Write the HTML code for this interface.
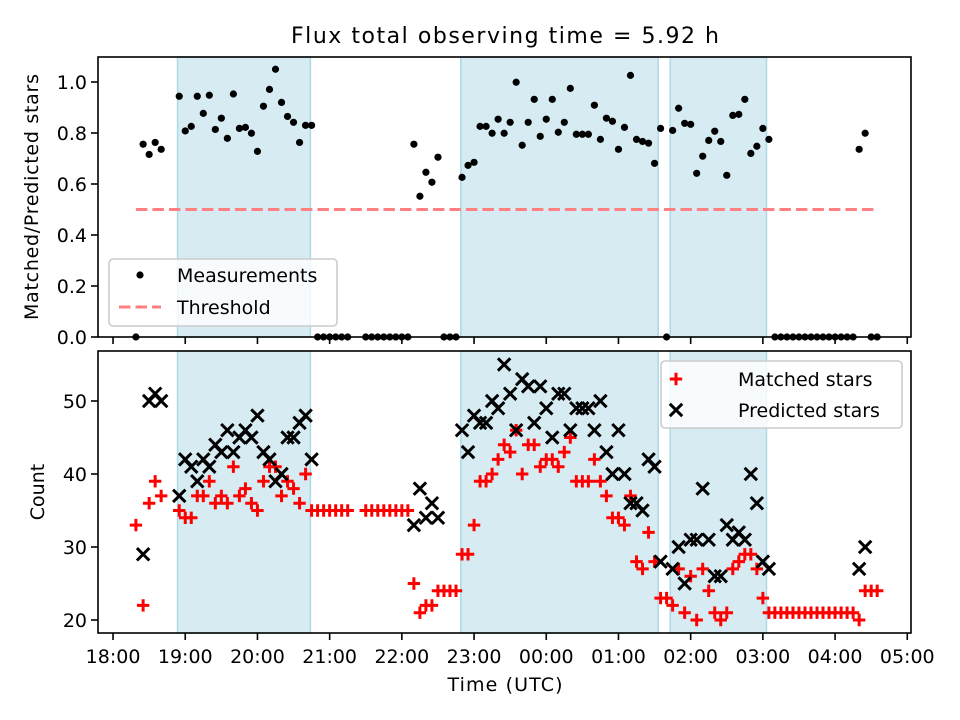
<!DOCTYPE html>
<html><head><meta charset="utf-8"><style>
html,body{margin:0;padding:0;background:#fff;}
svg{display:block;font-family:"DejaVu Sans","Liberation Sans",sans-serif;}
</style></head><body>
<svg id="chart" width="960" height="720" viewBox="0 0 960 720">
<rect width="960" height="720" fill="#fff"/>
<text x="505" y="43" font-size="22" text-anchor="middle" fill="#000" textLength="428">Flux total observing time = 5.92 h</text>
<g id="topPanel"></g>
<g id="botPanel"></g>
<text x="505" y="691" font-size="19" text-anchor="middle" textLength="115">Time (UTC)</text>
<text transform="translate(38,197) rotate(-90)" font-size="19" text-anchor="middle" textLength="246">Matched/Predicted stars</text>
<text transform="translate(44,492) rotate(-90)" font-size="19" text-anchor="middle">Count</text>
</svg>
<script>
// time in minutes after 18:00 UTC
const times = [19,25,30,35,40,55,60,65,70,75,80,85,90,95,100,105,110,115,120,125,130,135,140,145,150,155,160,165,
170,175,180,185,190,195,210,215,220,225,230,235,240,245,
250,255,260,265,270,275,280,285,290,295,300,305,310,315,320,325,330,335,340,345,350,355,360,365,370,375,380,385,390,395,400,405,410,415,420,425,430,435,440,445,450,455,460,
465,470,475,480,485,490,495,500,505,510,515,520,525,530,535,540,545,
550,555,560,565,570,575,580,585,590,595,600,605,610,615,620,625,630,635];
const ratio = [0,.756,.716,.763,.736,.944,.808,.826,.944,.877,.948,.814,.858,.779,.953,.818,.822,.799,.728,.905,.971,1.05,.920,.865,.842,.763,.830,.830,
0,0,0,0,0,0,0,0,0,0,0,0,0,0,
.756,.552,.646,.607,.705,0,0,0,.626,.673,.685,.826,.826,.799,.854,.799,.842,.999,.752,.842,.932,.787,.854,.932,.803,.842,.975,.795,.795,.795,.909,.775,.858,.846,.736,.822,1.026,.775,.767,.760,.681,.818,0,
.810,.897,.838,.834,.642,.709,.771,.807,.767,.634,.869,.873,.932,.720,.748,.818,.775,
0,0,0,0,0,0,0,0,0,0,0,0,0,0,.736,.799,0,0];
const matched = [33,22,36,39,37,35,34,34,37,37,39,36,37,36,41,37,38,36,35,39,41,41,37,39,38,36,40,35,
35,35,35,35,35,35,35,35,35,35,35,35,35,35,
25,21,22,22,24,24,24,24,29,29,33,39,39,40,42,44,43,46,40,44,44,41,42,42,41,43,45,39,39,39,42,39,37,34,34,33,37,28,27,32,28,23,23,
22,27,21,26,20,27,24,21,20,21,27,28,29,29,27,23,21,
21,21,21,21,21,21,21,21,21,21,21,21,21,21,20,24,24,24];
const predicted = [null,29,50,51,50,37,42,41,39,42,41,44,43,46,43,45,46,45,48,43,42,39,40,45,45,47,48,42,
null,null,null,null,null,null,null,null,null,null,null,null,null,null,
33,38,34,36,34,null,null,null,46,43,48,47,47,50,49,55,51,46,53,52,47,52,49,45,51,51,46,49,49,49,46,50,43,40,46,40,36,36,35,42,41,28,null,
27,30,25,31,31,38,31,26,26,33,31,32,31,40,36,28,27,
null,null,null,null,null,null,null,null,null,null,null,null,null,null,27,30,null,null];
const spanStart = [53.6,289,463];
const spanEnd = [164,453,543];
const threshold = 0.5;
const thresholdRange = [19,634];
const xTickLabels = ["18:00","19:00","20:00","21:00","22:00","23:00","00:00","01:00","02:00","03:00","04:00","05:00"];
const topYTicks = [0,0.2,0.4,0.6,0.8,1.0];
const botYTicks = [20,30,40,50];

const NS="http://www.w3.org/2000/svg";
const L=98,R=911;
const T1=57,B1=337, T2=351,B2=633;
const xMin=-12.5, xMax=663.1;
function X(t){return L+(t-xMin)/(xMax-xMin)*(R-L);}
function Y1(v){return 337-v*255;}
function Y2(v){return 401-(v-50)*7.3;}
function mk(tag,attrs,parent){const e=document.createElementNS(NS,tag);for(const k in attrs)e.setAttribute(k,attrs[k]);parent.appendChild(e);return e;}
const topG=document.getElementById('topPanel'), botG=document.getElementById('botPanel');

function panel(g,T,B,name){
  for(let i=0;i<spanStart.length;i++){
    const r=mk('rect',{x:X(spanStart[i]),y:T,width:X(spanEnd[i])-X(spanStart[i]),height:B-T,fill:'#add8e6','fill-opacity':0.5,stroke:'#add8e6','stroke-width':1.5},g);
    
    
  }
  xTickLabels.forEach((lab,i)=>{
    const x=X(i*60);
    const tk=mk('line',{x1:x,x2:x,y1:B,y2:B+7,stroke:'#000','stroke-width':1.6},g);
    
    
    if(name==='bot'){
      const t=mk('text',{x:x,y:B+30,'font-size':19,'text-anchor':'middle'},g);
      t.textContent=lab;
      
      
    }
  });
}
panel(topG,T1,B1,'top');
panel(botG,T2,B2,'bot');

// top panel
const th=mk('line',{x1:X(thresholdRange[0]),x2:X(thresholdRange[1]),y1:Y1(threshold),y2:Y1(threshold),stroke:'#ff8080','stroke-width':3,'stroke-dasharray':'11.5 5'},topG);


times.forEach((t,i)=>{
  const c=mk('circle',{cx:X(t),cy:Y1(ratio[i]),r:3.6,fill:'#000'},topG);
  
  
});
topYTicks.forEach(v=>{
  const y=Y1(v);
  mk('line',{x1:L-7,x2:L,y1:y,y2:y,stroke:'#000','stroke-width':1.6},topG);
  const t=mk('text',{x:L-11,y:y+7,'font-size':19,'text-anchor':'end'},topG);
  t.textContent=v.toFixed(1);
  
  
});

// bottom panel
function plus(x,y,g){return mk('path',{d:`M${x-6.2},${y}H${x+6.2}M${x},${y-6.2}V${y+6.2}`,stroke:'#f00','stroke-width':3,fill:'none'},g);}
function cross(x,y,g){return mk('path',{d:`M${x-6.2},${y-6.2}L${x+6.2},${y+6.2}M${x-6.2},${y+6.2}L${x+6.2},${y-6.2}`,stroke:'#000','stroke-width':3,fill:'none'},g);}
times.forEach((t,i)=>{
  const p=plus(X(t),Y2(matched[i]),botG);
  
  
});
times.forEach((t,i)=>{
  if(predicted[i]===null) return;
  const p=cross(X(t),Y2(predicted[i]),botG);
  
  
});
botYTicks.forEach(v=>{
  const y=Y2(v);
  mk('line',{x1:L-7,x2:L,y1:y,y2:y,stroke:'#000','stroke-width':1.6},botG);
  const t=mk('text',{x:L-11,y:y+7,'font-size':19,'text-anchor':'end'},botG);
  t.textContent=String(v);
  
  
});

// frames
[[topG,T1,B1],[botG,T2,B2]].forEach(([g,T,B])=>{
  const f=mk('rect',{x:L,y:T,width:R-L,height:B-T,fill:'none',stroke:'#000','stroke-width':1.6},g);
  
  
});

// legends
const lg1=mk('g',{},topG);


mk('rect',{x:109,y:259,width:228,height:67,rx:4,fill:'#fff','fill-opacity':0.8,stroke:'#ccc','stroke-width':1.6},lg1);
mk('circle',{cx:140,cy:275,r:3.6,fill:'#000'},lg1);
let t1=mk('text',{x:177,y:282,'font-size':19},lg1);t1.textContent='Measurements';
mk('line',{x1:119,x2:161,y1:307,y2:307,stroke:'#ff8080','stroke-width':3,'stroke-dasharray':'11.5 5'},lg1);
let t2=mk('text',{x:177,y:314,'font-size':19},lg1);t2.textContent='Threshold';

const lg2=mk('g',{},botG);


mk('rect',{x:661,y:361,width:241,height:67,rx:4,fill:'#fff','fill-opacity':0.8,stroke:'#ccc','stroke-width':1.6},lg2);
plus(676,379,lg2);
let t3=mk('text',{x:738,y:386,'font-size':19},lg2);t3.textContent='Matched stars';
cross(676,410,lg2);
let t4=mk('text',{x:738,y:417,'font-size':19},lg2);t4.textContent='Predicted stars';
</script>
</body></html>
